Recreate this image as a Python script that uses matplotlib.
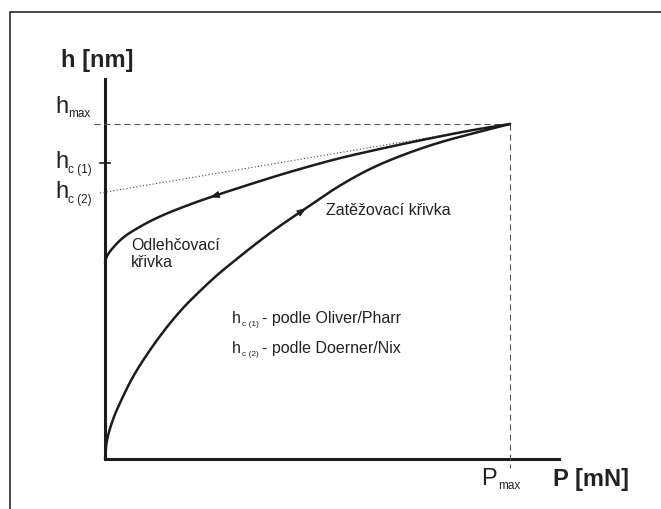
import numpy as np
import matplotlib
matplotlib.use('Agg')
import matplotlib.pyplot as plt

plt.rcParams['font.family'] = ['Liberation Sans', 'DejaVu Sans']

# schematic indentation curve, units scaled so that Pmax = hmax = 100
P_max = 100
h_max = 100
h_c1 = 88.4
h_c2 = 79.4

# loading curve (zatezovaci)
P_load = [0, 0.3, 0.9, 1.8, 2.9, 6.9, 11.1, 15.3, 19.3, 23.5, 27.7, 31.6, 35.1,
          41.5, 47.7, 58.0, 66.2, 74.6, 82.7, 90.9, 100]
h_load = [0, 4.2, 7.7, 11.2, 14.6, 24.5, 32.5, 39.4, 45.1, 50.2, 54.9, 58.8, 62.2,
          68.1, 73.3, 81.6, 87.0, 91.2, 94.5, 97.2, 100]

# unloading curve (odlehcovaci)
P_unload = [0, 0.3, 1.2, 4.4, 8.6, 13.6, 21.0, 27.9, 35.8, 43.2, 50.6, 58.0,
            66.2, 74.6, 82.7, 90.9, 100]
h_unload = [58.5, 60.0, 61.9, 66.0, 69.3, 72.4, 76.0, 78.9, 82.0, 84.8, 87.4, 89.8,
            92.1, 94.3, 96.3, 98.2, 100]

# where the direction arrows sit on the curves
arrow_load_P = 47.7
arrow_unload_P = 27.9

fig = plt.figure(figsize=(6.61, 5.09), dpi=100)
ax = fig.add_axes([0, 0, 1, 1])
ax.set_xlim(-25.93, 137.28)
ax.set_ylim(-14.93, 137.01)
ax.axis('off')

dark = '#1c1c1c'
txt = '#222222'


def smooth(x, y, n=20):
    # centripetal catmull-rom through the read points, only for drawing
    p = np.column_stack([x, y]).astype(float)
    p = np.vstack([2 * p[0] - p[1], p, 2 * p[-1] - p[-2]])
    out = []
    for i in range(1, len(p) - 2):
        p0, p1, p2, p3 = p[i - 1], p[i], p[i + 1], p[i + 2]
        t0 = 0.0
        t1 = t0 + np.linalg.norm(p1 - p0) ** 0.5
        t2 = t1 + np.linalg.norm(p2 - p1) ** 0.5
        t3 = t2 + np.linalg.norm(p3 - p2) ** 0.5
        t = np.linspace(t1, t2, n, endpoint=False)[:, None]
        a1 = (t1 - t) / (t1 - t0) * p0 + (t - t0) / (t1 - t0) * p1
        a2 = (t2 - t) / (t2 - t1) * p1 + (t - t1) / (t2 - t1) * p2
        a3 = (t3 - t) / (t3 - t2) * p2 + (t - t2) / (t3 - t2) * p3
        b1 = (t2 - t) / (t2 - t0) * a1 + (t - t0) / (t2 - t0) * a2
        b2 = (t3 - t) / (t3 - t1) * a2 + (t - t1) / (t3 - t1) * a3
        out.append((t2 - t) / (t2 - t1) * b1 + (t - t1) / (t2 - t1) * b2)
    out.append(p[-2][None, :])
    out = np.vstack(out)
    return out[:, 0], out[:, 1]


# outer frame (only left and top edges visible)
ax.plot([-23.5, -23.5, 140], [-20, 133.4, 133.4], color='#3a3a3a', lw=1.3,
        solid_joinstyle='miter', clip_on=False)

# axes
ax.plot([0, 0, 112.1], [113.4, 0, 0], color=dark, lw=2.2, solid_joinstyle='miter')

# guide lines
ax.plot([-2.7, P_max], [h_max, h_max], color='#555555', lw=0.8, ls=(0, (5.4, 3.6)))
ax.plot([P_max, P_max], [h_max, -2.7], color='#555555', lw=0.8, ls=(0, (5.4, 3.6)))
ax.plot([-1.2, P_max], [h_c2, h_max], color='#444444', lw=0.8, ls=(0, (1, 2)))
ax.plot([-1.2, 1.2], [h_c1, h_c1], color=dark, lw=1.2)

# curves
xs, ys = smooth(P_load, h_load)
ax.plot(xs, ys, color=dark, lw=1.8, solid_capstyle='round')
xs, ys = smooth(P_unload, h_unload)
ax.plot(xs, ys, color=dark, lw=1.8, solid_capstyle='round')


# arrowheads
def head(Px, Pc, hc, forward):
    a = np.interp(Px - 2.0, Pc, hc)
    b = np.interp(Px + 2.0, Pc, hc)
    if forward:
        start, tip = (Px - 2.0, a), (Px + 2.0, b)
    else:
        start, tip = (Px + 2.0, b), (Px - 2.0, a)
    ax.annotate('', xy=tip, xytext=start,
                arrowprops=dict(arrowstyle='-|>,head_length=0.6,head_width=0.22',
                                color=dark, lw=0.6, shrinkA=0, shrinkB=0))


head(arrow_load_P, P_load, h_load, True)
head(arrow_unload_P, P_unload, h_unload, False)

# axis titles
ax.text(-2.0, 117.0, 'h [nm]', fontsize=17, fontweight='bold', ha='center',
        va='baseline', color=txt)
ax.text(110.6, -8.1, 'P [mN]', fontsize=17, fontweight='bold', ha='left',
        va='baseline', color=txt)

# tick-like labels
ax.text(-12.3, 103.3, 'h', fontsize=17, va='baseline', color=txt)
ax.text(-9.1, 102.1, 'max', fontsize=8.5, va='baseline', color=txt)
ax.text(-12.3, 86.9, 'h', fontsize=17, va='baseline', color=txt)
ax.text(-9.1, 85.4, 'c (1)', fontsize=8.5, va='baseline', color=txt)
ax.text(-12.3, 77.9, 'h', fontsize=17, va='baseline', color=txt)
ax.text(-9.1, 76.4, 'c (2)', fontsize=8.5, va='baseline', color=txt)
ax.text(92.8, -7.8, 'P', fontsize=17, va='baseline', color=txt)
ax.text(97.0, -9.0, 'max', fontsize=8.5, va='baseline', color=txt)

# curve labels
ax.text(6.4, 62.4, 'Odlehčovací', fontsize=11.5, va='baseline', color=txt)
ax.text(6.4, 57.3, 'křivka', fontsize=11.5, va='baseline', color=txt)
ax.text(54.6, 72.8, 'Zatěžovací křivka', fontsize=11.5, va='baseline', color=txt)

# notes
ax.text(31.4, 40.6, 'h', fontsize=11.5, va='baseline', color=txt)
ax.text(33.9, 39.7, 'c (1)', fontsize=6, va='baseline', color=txt)
ax.text(38.8, 40.6, '- podle Oliver/Pharr', fontsize=11.5, va='baseline', color=txt)
ax.text(31.4, 31.6, 'h', fontsize=11.5, va='baseline', color=txt)
ax.text(33.9, 30.7, 'c (2)', fontsize=6, va='baseline', color=txt)
ax.text(38.8, 31.6, '- podle Doerner/Nix', fontsize=11.5, va='baseline', color=txt)

fig.savefig('out.png', dpi=100)
